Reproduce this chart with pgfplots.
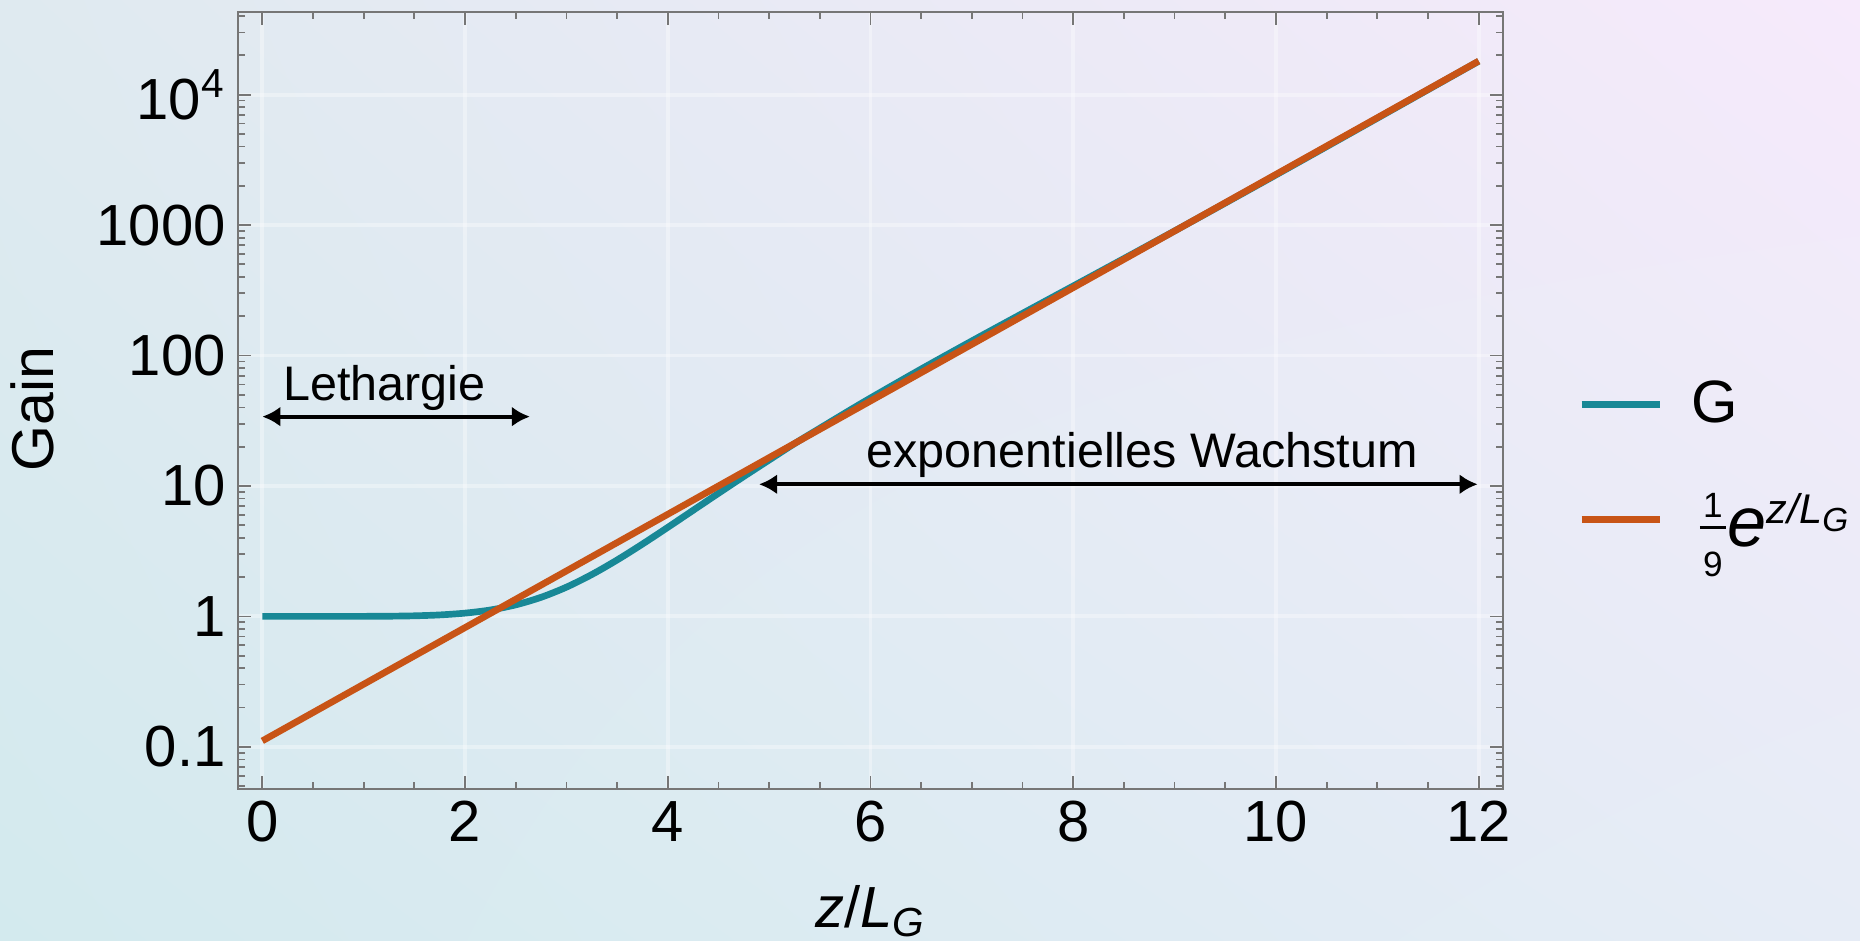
\documentclass[border=0pt]{standalone}
\usepackage{fontspec}
\setmainfont{Liberation Sans}
\usepackage{pgfplots}
\pgfplotsset{compat=1.18}
\usetikzlibrary{arrows.meta,shadings}

\definecolor{gteal}{RGB}{24,136,150}
\definecolor{eorange}{RGB}{200,84,22}
\definecolor{framegray}{RGB}{118,118,118}
\definecolor{bgUL}{RGB}{223,234,240}
\definecolor{bgUR}{RGB}{246,234,251}
\definecolor{bgLL}{RGB}{211,234,238}
\definecolor{bgLR}{RGB}{230,236,246}

% a small stacked 1/9 for the legend
\newcommand{\ninth}{%
  \raisebox{-3.0mm}{\hbox to 2.6mm{\hss\fontsize{10}{10}\selectfont 9\hss}}\kern-2.6mm
  \raisebox{1.75mm}{\rule{2.6mm}{0.25mm}}\kern-2.6mm
  \raisebox{2.9mm}{\hbox to 2.6mm{\hss\fontsize{10}{10}\selectfont 1\hss}}}

% FEL power gain G(z/L_G) and its asymptote e^{z/L_G}/9
\pgfplotstableread{
x y
0     1
0.25  1.00000
0.5   1.00001
0.75  1.00017
1     1.00093
1.25  1.00353
1.5   1.01043
1.75  1.02660
2     1.05961
2.25  1.12016
2.5   1.22617
2.75  1.40083
3     1.67574
3.25  2.09306
3.5   2.70680
3.75  3.58569
4     4.81595
4.25  6.50483
4.5   8.78467
4.75  11.8188
5     15.8078
5.25  21.1102
5.5   27.6988
5.75  36.2873
6     47.2402
6.5   78.7935
7     129.368
7.5   210.470
8     341.250
8.5   553.790
9     901.871
9.5   1475.38
10    2423.92
10.5  3995.35
11    6598.92
11.5  10908.7
12    18033.3
}\gaintable

\pgfplotstableread{
x y
0   0.111111
2   0.821006
4   6.06648
6   44.8254
8   331.218
10  2447.39
12  18083.9
}\asymtable

\begin{document}
\begin{tikzpicture}
\useasboundingbox (0,0) rectangle (186mm,94mm);
\shade[upper left=bgUL, upper right=bgUR, lower left=bgLL, lower right=bgLR] (0,0) rectangle (186mm,94mm);
\begin{axis}[
  at={(23.8mm,15.1mm)}, anchor=south west,
  scale only axis, width=126.5mm, height=77.7mm,
  ymode=log,
  xmin=-0.24, xmax=12.24, ymin=0.0475, ymax=43000,
  xtick={0,2,...,12},
  xticklabels={0,2,4,6,8,10,12},
  minor xtick={0,0.5,...,12},
  ytick={0.1,1,10,100,1000,10000},
  yticklabels={0.1,1,10,100,1000,10\textsuperscript{4}},
  minor ytick={0.05,0.06,0.07,0.08,0.09,0.2,0.3,0.4,0.5,0.6,0.7,0.8,0.9,2,3,4,5,6,7,8,9,20,30,40,50,60,70,80,90,200,300,400,500,600,700,800,900,2000,3000,4000,5000,6000,7000,8000,9000,20000,30000,40000},
  tick label style={font=\fontsize{16.5}{19}\selectfont, text=black},
  major tick length=1.3mm, minor tick length=0.7mm,
  tick style={framegray, line width=0.5pt},
  axis line style={framegray, line width=0.6pt},
  grid=major,
  major grid style={white, line width=1.1pt, opacity=0.35},
  xlabel={\textit{z}/\textit{L}\textsubscript{\textit{G}}},
  xlabel style={at={(axis description cs:0.5,-0.178)}, anchor=base, font=\fontsize{16.5}{19}\selectfont},
  ylabel={Gain},
  ylabel style={at={(axis description cs:-0.146,0.489)}, anchor=base, font=\fontsize{16.8}{19}\selectfont},
  legend style={at={(axis description cs:1.0594,0.525)}, anchor=north west, draw=none, fill=none,
    inner sep=0pt, outer sep=0pt,
    font=\fontsize{17}{20}\selectfont, row sep=6.0mm, column sep=2.9mm,
    nodes={inner sep=0pt, outer sep=0pt, anchor=west}},
  legend image code/.code={\draw[#1] (0mm,0mm) -- (7.8mm,0mm);},
  legend cell align=left,
]
\addplot[gteal, line width=1.9pt, smooth] table[x=x, y=y] {\gaintable};
\addlegendentry{G}
\addplot[eorange, line width=1.9pt] table[x=x, y=y] {\asymtable};
\addlegendentry{\rule{0pt}{5.8mm}\kern0.8mm\ninth\kern0.2mm{\fontsize{20}{20}\selectfont\textit{e}}\raisebox{2.3mm}{\fontsize{11.8}{11.8}\selectfont\textit{z/L}\raisebox{-0.8mm}{\fontsize{9.5}{9.5}\selectfont\textit{G}}}}

% annotations
\draw[{Latex[length=1.8mm,width=2mm]}-{Latex[length=1.8mm,width=2mm]}, line width=1.1pt]
  (axis cs:0,34) -- (axis cs:2.64,34);
\node[anchor=west, inner sep=0pt, font=\fontsize{13.8}{16}\selectfont] at (axis cs:0.2,56.9) {Lethargie};
\draw[{Latex[length=1.8mm,width=2mm]}-{Latex[length=1.8mm,width=2mm]}, line width=1.1pt]
  (axis cs:4.9,10.3) -- (axis cs:11.99,10.3);
\node[inner sep=0pt, font=\fontsize{13.8}{16}\selectfont] at (axis cs:8.68,17.4) {exponentielles Wachstum};
\end{axis}
\end{tikzpicture}
\end{document}
